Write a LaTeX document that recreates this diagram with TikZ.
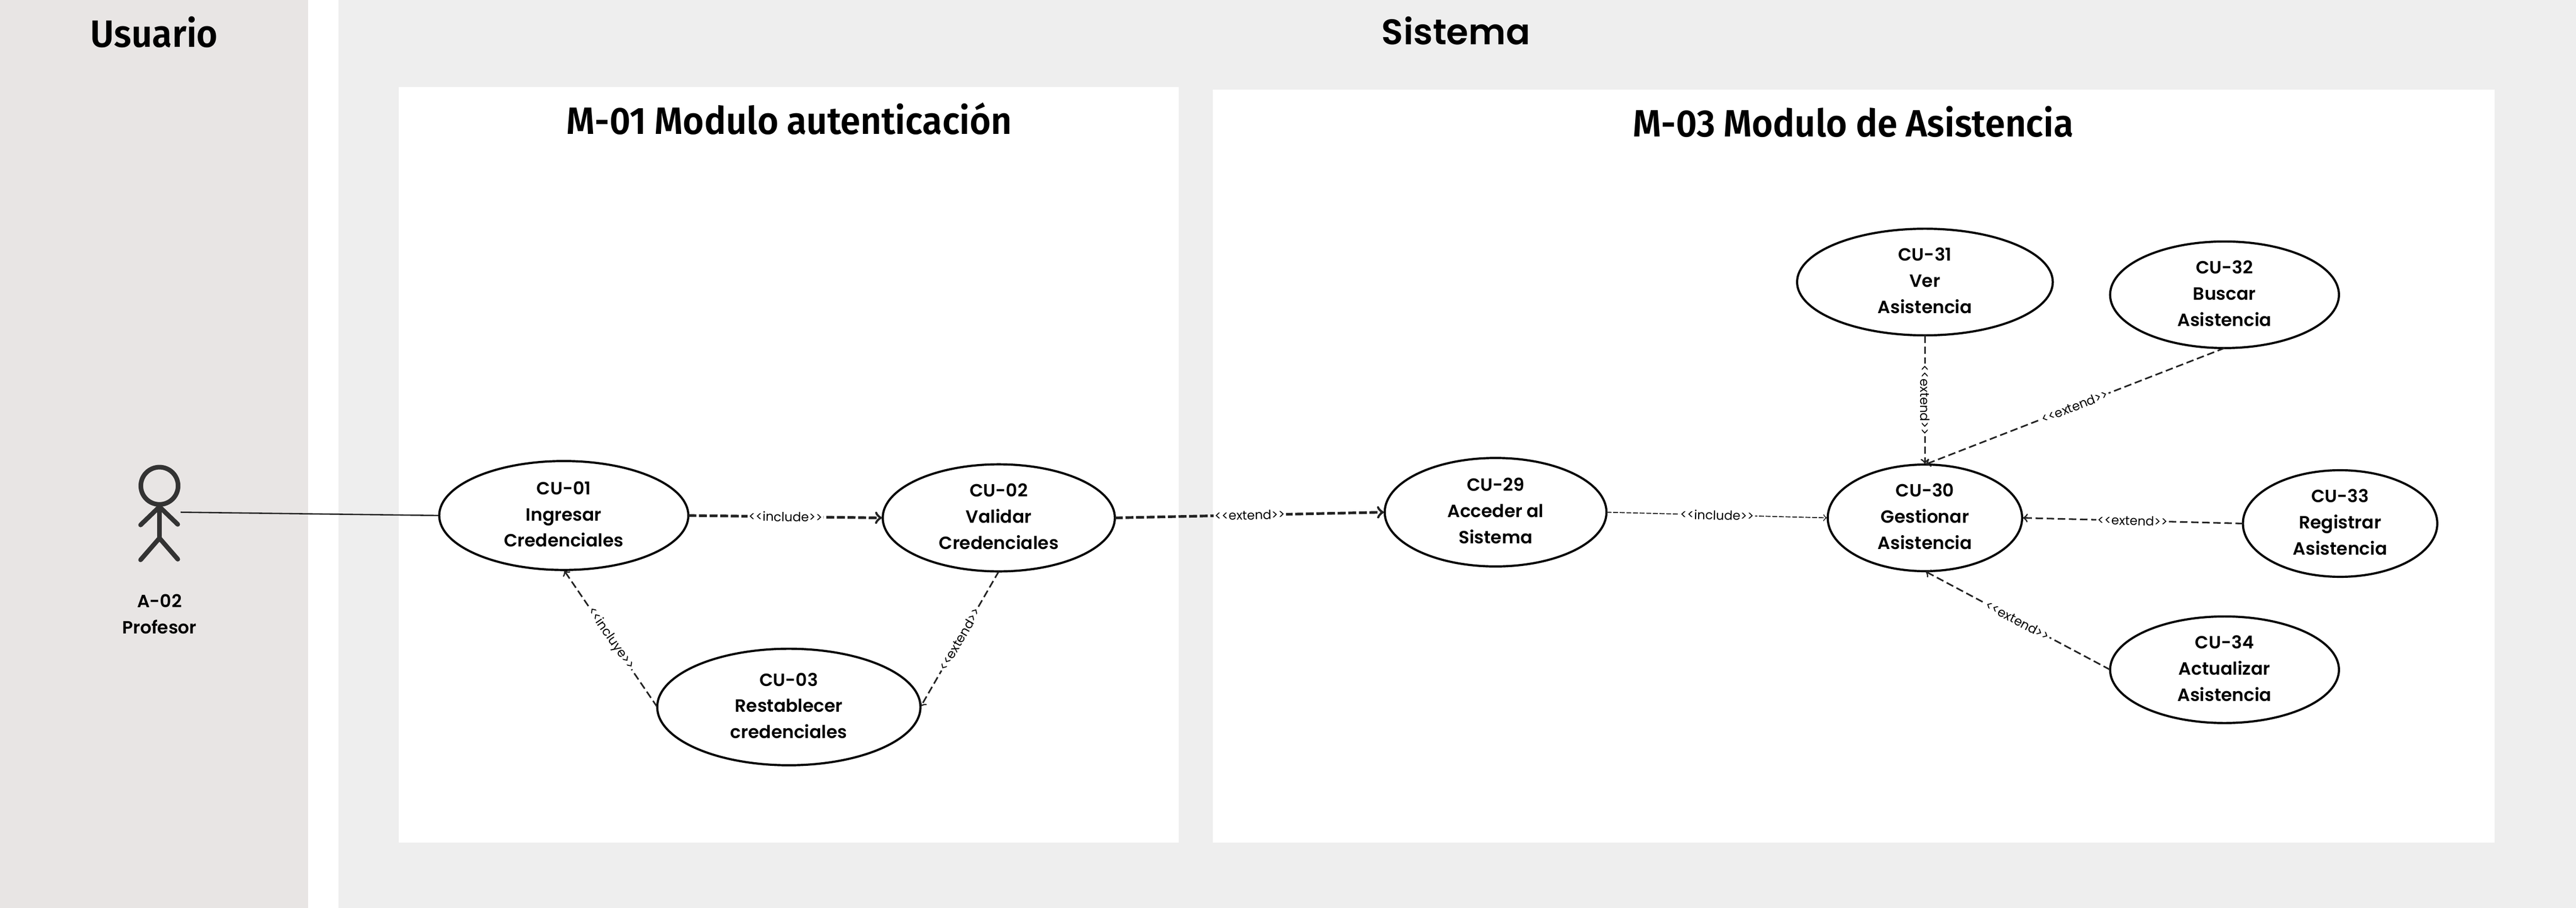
\documentclass[tikz,border=0pt]{standalone}
\usepackage{fontspec}
\setmainfont{Poppins SemiBold}
\newfontfamily\titlefont[FakeStretch=0.95,WordSpace=0.95]{Fira Sans SemiBold}
\newfontfamily\headfont{Poppins SemiBold}
\newfontfamily\labelfont{Poppins}
\usetikzlibrary{arrows,positioning,shapes.geometric}
\definecolor{usuariogray}{HTML}{E8E5E4}
\definecolor{sistemagray}{HTML}{EEEEEE}
\definecolor{actorgray}{HTML}{333333}
\definecolor{linegray}{HTML}{222222}
\tikzset{
  cu/.style={draw=black, ellipse, line width=1.3pt, fill=white, inner sep=-6pt, outer sep=0pt,
    font=\fontsize{10.7}{15.8}\selectfont},
  title/.style={anchor=base, font=\titlefont\fontsize{23}{28}\selectfont},
  rel/.style={dashed, line width=0.95pt, draw=linegray, dash pattern=on 4.5pt off 2.2pt},
  relthick/.style={rel, line width=1.6pt, dash pattern=on 4.8pt off 1.6pt},
  relthin/.style={rel, line width=0.6pt, dash pattern=on 3pt off 1pt},
  lbl/.style={fill=white, inner sep=0.6pt, midway, sloped, font=\labelfont\fontsize{7.6}{9}\selectfont, text=black}
}

\begin{document}
\begin{tikzpicture}[->,>=to,shorten >=0.5pt]
\useasboundingbox (0,0) rectangle (54.6,-19.25);
\fill[usuariogray] (0,0) rectangle (6.53,-19.25);
\fill[sistemagray] (7.17,0) rectangle (54.6,-19.25);
\fill[white] (8.45,-1.85) rectangle (24.99,-17.86);
\fill[white] (25.70,-1.90) rectangle (52.87,-17.86);
\node[title] (usuario) at (3.27,-1.00) {Usuario};
\node[anchor=base, font=\headfont\fontsize{21.5}{28}\selectfont] (sistema) at (30.86,-0.95) {Sistema};
\node[title] (m01) at (16.73,-2.85) {M-01 Modulo autenticación};
\node[title] (m03) at (39.28,-2.90) {M-03 Modulo de Asistencia};
% actor
\node[draw=actorgray, circle, line width=2.8pt, minimum size=0.79cm, inner sep=0pt] (head) at (3.38,-10.30) {};
\coordinate (hand) at (3.83,-10.86);
\draw[-, actorgray, line width=2.8pt, line cap=round] (head.south) -- (3.38,-11.41);
\draw[-, actorgray, line width=2.8pt, line cap=round] (2.98,-11.13) -- (head.south) -- (3.78,-11.13);
\draw[-, actorgray, line width=2.8pt, line cap=round] (2.98,-11.87) -- (3.38,-11.41) -- (3.78,-11.87);
\node[font=\fontsize{10.7}{15.8}\selectfont] (a02) at (3.38,-13.05) {\begin{tabular}{@{}c@{}} A-02 \\ Profesor \end{tabular}};
% modulo autenticacion
\node[cu, minimum width=5.28cm, minimum height=2.31cm] (cu01) at (11.95,-10.93) {\begin{tabular}{@{}c@{}} CU-01 \\ Ingresar \\ Credenciales \end{tabular}};
\node[cu, minimum width=4.92cm, minimum height=2.27cm] (cu02) at (21.17,-10.98) {\begin{tabular}{@{}c@{}} CU-02 \\ Validar \\ Credenciales \end{tabular}};
\node[cu, minimum width=5.58cm, minimum height=2.47cm] (cu03) at (16.72,-14.99) {\begin{tabular}{@{}c@{}} CU-03 \\ Restablecer \\ credenciales \end{tabular}};
% modulo asistencia
\node[cu, minimum width=4.70cm, minimum height=2.30cm] (cu29) at (31.70,-10.86) {\begin{tabular}{@{}c@{}} CU-29 \\ Acceder al \\ Sistema \end{tabular}};
\node[cu, minimum width=4.12cm, minimum height=2.26cm] (cu30) at (40.80,-10.98) {\begin{tabular}{@{}c@{}} CU-30 \\ Gestionar \\ Asistencia \end{tabular}};
\node[cu, minimum width=5.42cm, minimum height=2.26cm] (cu31) at (40.80,-5.98) {\begin{tabular}{@{}c@{}} CU-31 \\ Ver \\ Asistencia \end{tabular}};
\node[cu, minimum width=4.85cm, minimum height=2.26cm] (cu32) at (47.15,-6.25) {\begin{tabular}{@{}c@{}} CU-32 \\ Buscar \\ Asistencia \end{tabular}};
\node[cu, minimum width=4.12cm, minimum height=2.26cm] (cu33) at (49.60,-11.10) {\begin{tabular}{@{}c@{}} CU-33 \\ Registrar \\ Asistencia \end{tabular}};
\node[cu, minimum width=4.85cm, minimum height=2.26cm] (cu34) at (47.15,-14.20) {\begin{tabular}{@{}c@{}} CU-34 \\ Actualizar \\ Asistencia \end{tabular}};
% relations
\draw[-, line width=0.8pt, linegray] (hand) -- (cu01.west);
\path (cu01.east) edge[relthick] node[lbl] {<<include>>} (cu02.west);
\path (cu02.east) edge[relthick] node[lbl] {<<extend>>} (cu29.west);
\path (cu02.south) edge[rel] node[lbl] {<<extend>>} (cu03.east);
\path (cu03.west) edge[rel] node[lbl] {<<incluye>>} (cu01.south);
\path (cu29.east) edge[relthin] node[lbl] {<<include>>} (cu30.west);
\path (cu31.south) edge[rel] node[lbl] {<<extend>>} (cu30.north);
\path (cu32.south) edge[rel] node[lbl] {<<extend>>} (cu30.north);
\path (cu33.west) edge[rel] node[lbl] {<<extend>>} (cu30.east);
\path (cu34.west) edge[rel] node[lbl] {<<extend>>} (cu30.south);
\end{tikzpicture}
\end{document}
